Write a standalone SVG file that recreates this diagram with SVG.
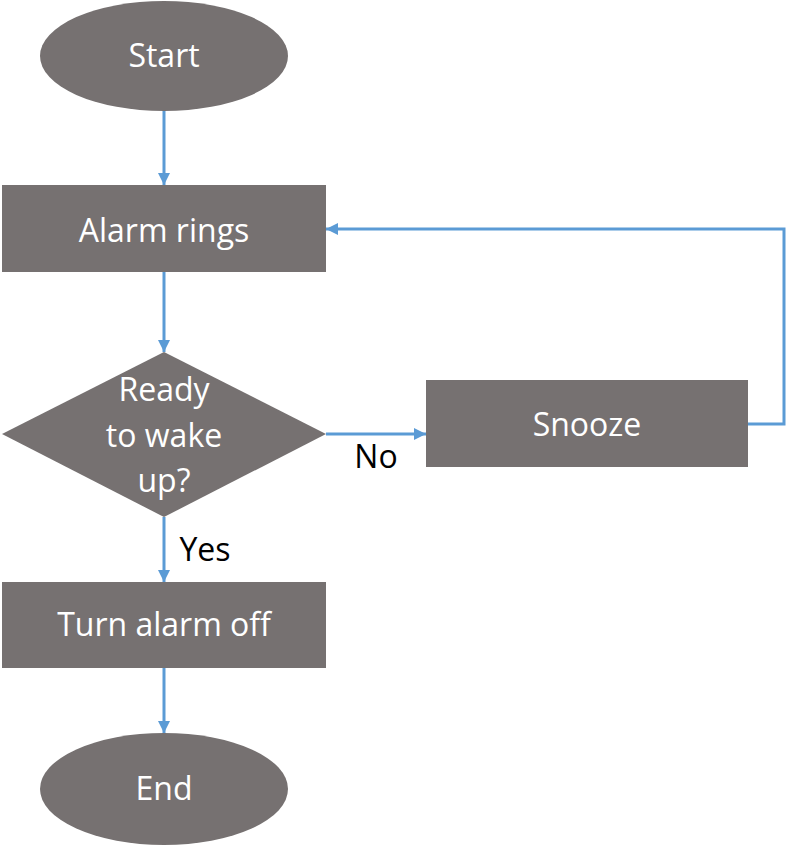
<svg xmlns="http://www.w3.org/2000/svg" width="787" height="845" viewBox="0 0 787 845">
<style>
.n{fill:#767171}
.t{fill:#ffffff;font-family:"Open Sans","Noto Sans",sans-serif;font-size:32px;text-anchor:middle}
.l{fill:#000000;font-family:"Open Sans","Noto Sans",sans-serif;font-size:32px;text-anchor:middle}
.c{stroke:#5B9BD5;stroke-width:3;fill:none}
</style>
<defs>
<marker id="ah" viewBox="0 0 10 10" refX="10" refY="5" markerWidth="4" markerHeight="4" orient="auto" markerUnits="strokeWidth">
<path d="M0,0 L10,5 L0,10 Z" fill="#5B9BD5"/>
</marker>
</defs>
<g id="connectors">
<path class="c" d="M164,111 L164,185" marker-end="url(#ah)"/>
<path class="c" d="M164,272 L164,352" marker-end="url(#ah)"/>
<path class="c" d="M326,434 L426,434" marker-end="url(#ah)"/>
<path class="c" d="M748,424 L784,424 L784,229 L326,229" marker-end="url(#ah)"/>
<path class="c" d="M164,517 L164,582" marker-end="url(#ah)"/>
<path class="c" d="M164,668 L164,733" marker-end="url(#ah)"/>
<text class="l" x="376" y="468">No</text>
<text class="l" x="205" y="561">Yes</text>
</g>
<g id="start">
<ellipse class="n" cx="164" cy="56" rx="124" ry="55"/>
<text class="t" x="164" y="67">Start</text>
</g>
<g id="alarm">
<rect class="n" x="2" y="185" width="324" height="87"/>
<text class="t" x="164" y="242">Alarm rings</text>
</g>
<g id="decision">
<polygon class="n" points="164,352 326,434 164,517 2,434"/>
<text class="t" x="164" y="401">Ready</text>
<text class="t" x="164" y="447">to wake</text>
<text class="t" x="164" y="492">up?</text>
</g>
<g id="snooze">
<rect class="n" x="426" y="380" width="322" height="87"/>
<text class="t" x="587" y="436">Snooze</text>
</g>
<g id="turnoff">
<rect class="n" x="2" y="582" width="324" height="86"/>
<text class="t" x="164" y="636">Turn alarm off</text>
</g>
<g id="end">
<ellipse class="n" cx="164" cy="789" rx="124" ry="56"/>
<text class="t" x="164" y="800">End</text>
</g>
</svg>
